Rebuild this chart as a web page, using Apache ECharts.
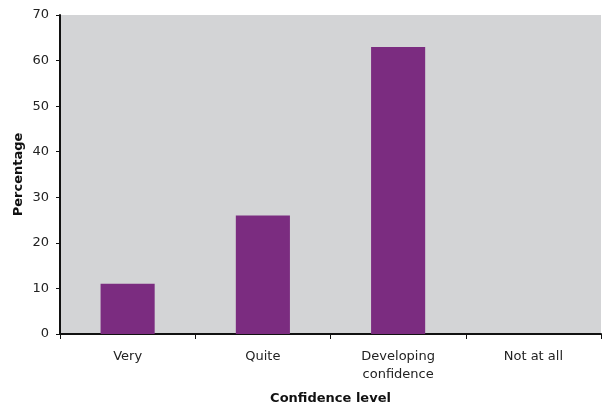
<!DOCTYPE html>
<html><head><meta charset="utf-8">
<script src="https://cdn.jsdelivr.net/npm/echarts@6/dist/echarts.min.js"></script>
<style>html,body{margin:0;padding:0;background:#fff}#c{width:602px;height:406px}</style>
</head><body><div id="c"></div>
<script>
const categories = ['Very', 'Quite', 'Developing\nconfidence', 'Not at all'];
const values = [11, 26, 63, 0];
const yTicks = [0, 10, 20, 30, 40, 50, 60, 70];

const chart = echarts.init(document.getElementById('c'), null, {renderer: 'canvas'});
chart.setOption({
  animation: false,
  grid: {left: 60, right: 1, top: 15, bottom: 72, outerBoundsMode: 'none', containLabel: false,
         show: true, backgroundColor: '#d3d4d6', borderWidth: 0},
  xAxis: {
    type: 'category', data: categories,
    name: 'Confidence level', nameLocation: 'middle', nameGap: 58,
    nameTextStyle: {fontFamily: 'DejaVu Sans', fontSize: 13, fontWeight: 'bold', color: '#111'},
    axisLine: {lineStyle: {color: '#111', width: 2}},
    axisTick: {show: true, length: 5, lineStyle: {color: '#111'}},
    axisLabel: {fontFamily: 'DejaVu Sans', fontSize: 13, color: '#222', margin: 14, lineHeight: 18}
  },
  yAxis: {
    type: 'value', min: yTicks[0], max: yTicks[yTicks.length - 1], interval: 10,
    name: 'Percentage', nameLocation: 'middle', nameGap: 35, nameMoveOverlap: false,
    nameTextStyle: {fontFamily: 'DejaVu Sans', fontSize: 13, fontWeight: 'bold', color: '#111'},
    axisLine: {show: true, lineStyle: {color: '#111', width: 2}},
    axisTick: {show: true, length: 4, lineStyle: {color: '#111'}},
    axisLabel: {fontFamily: 'DejaVu Sans', fontSize: 13, color: '#222', margin: 11},
    splitLine: {show: false}
  },
  series: [{
    type: 'bar', data: values, barWidth: '40%',
    itemStyle: {color: '#7b2c80'}
  }]
});
</script></body></html>
